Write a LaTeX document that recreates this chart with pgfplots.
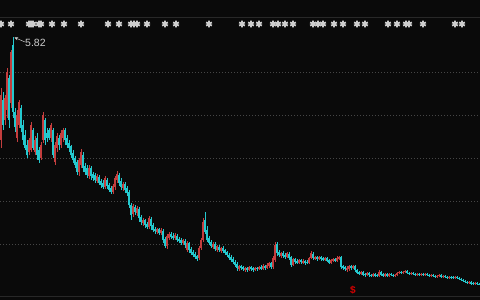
\documentclass[border=0pt]{standalone}
\usepackage{fontspec}
\setmainfont{Liberation Sans}
\usepackage{pgfplots}
\usepackage{pgfplotstable}
\pgfplotsset{compat=1.18}
\usetikzlibrary{arrows.meta}
\definecolor{bgblack}{RGB}{10,10,10}
\definecolor{gridgray}{RGB}{70,70,70}
\definecolor{sepgray}{RGB}{40,40,40}
\definecolor{upred}{RGB}{196,62,62}
\definecolor{dncyan}{RGB}{36,200,206}
\definecolor{starcol}{RGB}{205,205,205}

\pgfplotstableread{
x o h l c
1 3.76 4.80 3.60 4.66
5 4.16 4.66 4.06 4.60
7 4.36 5.20 4.20 5.12
11 4.50 5.56 4.40 5.52
17 3.80 4.36 3.72 4.26
19 4.06 4.56 4.00 4.52
29 3.52 3.80 3.46 3.76
31 3.56 4.12 3.52 4.06
35 3.52 3.84 3.46 3.76
41 3.40 3.72 3.36 3.66
43 3.76 4.32 3.70 4.26
51 3.80 4.10 3.72 4.06
55 3.32 3.72 3.26 3.66
57 3.60 3.90 3.52 3.84
61 3.66 3.96 3.60 3.90
63 3.80 4.00 3.72 3.96
79 3.12 3.40 3.04 3.36
81 3.26 3.58 3.20 3.52
89 3.04 3.26 2.98 3.20
97 2.94 3.08 2.90 3.04
105 2.82 3.04 2.78 3.00
113 2.72 2.88 2.68 2.84
115 2.82 3.04 2.76 3.00
117 2.96 3.14 2.90 3.08
123 2.80 2.92 2.74 2.88
133 2.28 2.48 2.22 2.44
137 2.30 2.44 2.24 2.40
143 2.10 2.20 2.04 2.16
149 2.02 2.24 1.98 2.20
157 1.92 2.00 1.88 1.98
161 1.90 2.00 1.86 1.96
167 1.64 1.88 1.58 1.84
169 1.80 1.92 1.76 1.88
175 1.80 1.90 1.76 1.86
183 1.70 1.78 1.66 1.76
187 1.56 1.74 1.52 1.70
199 1.40 1.64 1.36 1.60
201 1.60 1.80 1.56 1.76
203 1.76 2.20 1.72 2.12
213 1.62 1.72 1.58 1.68
217 1.56 1.66 1.52 1.64
221 1.54 1.62 1.50 1.60
239 1.18 1.26 1.14 1.24
245 1.16 1.22 1.12 1.20
249 1.16 1.24 1.14 1.22
255 1.16 1.22 1.14 1.20
259 1.18 1.24 1.16 1.22
263 1.18 1.28 1.16 1.24
267 1.20 1.30 1.18 1.26
269 1.24 1.32 1.20 1.30
273 1.22 1.44 1.18 1.40
275 1.36 1.72 1.32 1.66
281 1.44 1.52 1.40 1.50
287 1.42 1.52 1.40 1.50
293 1.26 1.40 1.24 1.38
299 1.30 1.38 1.28 1.36
303 1.30 1.38 1.28 1.34
309 1.30 1.42 1.28 1.40
311 1.40 1.54 1.38 1.50
315 1.38 1.44 1.36 1.42
319 1.38 1.44 1.36 1.42
325 1.36 1.42 1.34 1.40
331 1.30 1.38 1.28 1.36
333 1.34 1.40 1.32 1.38
337 1.34 1.44 1.32 1.40
339 1.38 1.44 1.36 1.42
347 1.16 1.24 1.12 1.20
349 1.18 1.26 1.14 1.24
353 1.20 1.26 1.18 1.24
361 1.08 1.14 1.06 1.12
367 1.06 1.12 1.04 1.10
373 1.04 1.10 1.02 1.08
379 1.04 1.16 1.02 1.12
385 1.04 1.10 1.02 1.08
389 1.04 1.10 1.02 1.08
395 1.04 1.08 1.02 1.06
397 1.06 1.12 1.04 1.10
399 1.10 1.14 1.08 1.12
403 1.10 1.14 1.08 1.12
405 1.12 1.16 1.10 1.14
411 1.08 1.12 1.06 1.10
417 1.06 1.10 1.04 1.08
421 1.06 1.10 1.04 1.08
425 1.06 1.10 1.04 1.08
431 1.04 1.08 1.02 1.06
437 1.02 1.06 1.00 1.04
439 1.04 1.08 1.02 1.06
443 1.02 1.06 1.00 1.04
449 1.00 1.04 0.98 1.02
455 1.00 1.04 0.98 1.02
469 0.90 0.94 0.88 0.92
475 0.88 0.92 0.86 0.90
}\upT

\pgfplotstableread{
x o h l c
3 4.56 4.72 3.96 4.06
9 5.00 5.06 4.00 4.16
13 5.66 5.82 4.20 4.32
15 4.32 4.40 3.92 4.02
21 4.40 4.46 3.92 4.00
23 4.06 4.16 3.66 3.76
25 3.86 3.96 3.56 3.60
27 3.66 3.76 3.40 3.46
33 3.96 4.00 3.56 3.60
37 3.80 3.90 3.36 3.46
39 3.56 3.62 3.30 3.36
45 4.16 4.20 3.66 3.76
47 3.90 4.00 3.72 3.80
49 3.96 4.00 3.76 3.80
53 3.96 4.00 3.40 3.46
59 3.80 3.86 3.56 3.66
65 3.96 4.00 3.66 3.76
67 3.80 3.86 3.60 3.66
69 3.70 3.76 3.52 3.60
71 3.64 3.66 3.40 3.46
73 3.50 3.56 3.30 3.36
75 3.40 3.44 3.20 3.26
77 3.32 3.36 3.06 3.12
83 3.46 3.52 3.12 3.20
85 3.24 3.30 3.06 3.12
87 3.20 3.26 3.00 3.06
91 3.20 3.24 2.96 3.04
93 3.08 3.12 2.94 3.00
95 3.06 3.10 2.90 2.96
99 3.02 3.06 2.86 2.90
101 2.94 2.98 2.80 2.86
103 2.90 2.96 2.78 2.82
107 2.96 3.00 2.78 2.84
109 2.86 2.90 2.72 2.76
111 2.80 2.84 2.68 2.72
119 3.06 3.10 2.84 2.90
121 2.94 3.00 2.76 2.82
125 2.88 2.92 2.70 2.76
127 2.80 2.84 2.64 2.70
129 2.72 2.76 2.40 2.46
131 2.46 2.50 2.16 2.26
135 2.42 2.46 2.26 2.32
139 2.38 2.42 2.12 2.20
141 2.22 2.26 2.06 2.12
145 2.16 2.18 2.00 2.06
147 2.08 2.12 1.98 2.02
151 2.18 2.22 1.96 2.04
153 2.06 2.10 1.92 1.96
155 1.98 2.02 1.88 1.94
159 1.98 2.00 1.86 1.90
163 1.94 1.98 1.70 1.76
165 1.78 1.82 1.60 1.64
171 1.88 1.92 1.78 1.82
173 1.84 1.90 1.76 1.80
177 1.84 1.88 1.72 1.76
179 1.78 1.82 1.70 1.74
181 1.76 1.80 1.66 1.70
185 1.74 1.78 1.60 1.66
189 1.70 1.72 1.50 1.56
191 1.58 1.62 1.46 1.50
193 1.52 1.56 1.42 1.46
195 1.48 1.52 1.38 1.42
197 1.44 1.46 1.34 1.38
205 2.16 2.32 1.88 1.92
207 1.96 2.04 1.72 1.76
209 1.80 1.84 1.66 1.70
211 1.72 1.76 1.60 1.64
215 1.68 1.72 1.54 1.58
219 1.62 1.66 1.52 1.56
223 1.60 1.64 1.50 1.54
225 1.56 1.58 1.46 1.50
227 1.52 1.54 1.42 1.46
229 1.46 1.50 1.36 1.40
231 1.42 1.46 1.32 1.36
233 1.38 1.42 1.28 1.32
235 1.32 1.36 1.22 1.26
237 1.28 1.32 1.14 1.20
241 1.24 1.26 1.16 1.20
243 1.22 1.24 1.14 1.18
247 1.20 1.22 1.12 1.16
251 1.22 1.24 1.14 1.18
253 1.20 1.22 1.12 1.16
257 1.20 1.22 1.14 1.18
261 1.22 1.26 1.16 1.18
265 1.24 1.26 1.16 1.20
271 1.30 1.32 1.18 1.22
277 1.68 1.72 1.44 1.50
279 1.52 1.56 1.42 1.46
283 1.50 1.54 1.40 1.44
285 1.46 1.50 1.38 1.42
289 1.48 1.52 1.36 1.40
291 1.42 1.44 1.22 1.26
295 1.38 1.40 1.28 1.32
297 1.34 1.38 1.28 1.30
301 1.36 1.38 1.28 1.32
305 1.34 1.36 1.26 1.30
307 1.32 1.36 1.28 1.30
313 1.48 1.52 1.36 1.40
317 1.42 1.44 1.34 1.38
321 1.42 1.44 1.34 1.38
323 1.40 1.42 1.34 1.36
327 1.40 1.42 1.32 1.34
329 1.36 1.38 1.28 1.30
335 1.38 1.40 1.32 1.34
341 1.42 1.44 1.18 1.22
343 1.24 1.26 1.16 1.20
345 1.22 1.24 1.14 1.18
351 1.24 1.26 1.16 1.20
355 1.24 1.26 1.12 1.16
357 1.16 1.18 1.08 1.10
359 1.12 1.14 1.06 1.08
363 1.12 1.14 1.04 1.06
365 1.08 1.10 1.02 1.06
369 1.10 1.12 1.02 1.06
371 1.06 1.08 1.02 1.04
375 1.08 1.10 1.02 1.04
377 1.06 1.08 1.02 1.04
381 1.12 1.14 1.04 1.06
383 1.08 1.10 1.02 1.04
387 1.08 1.10 1.02 1.04
391 1.08 1.10 1.04 1.06
393 1.06 1.08 1.02 1.04
401 1.12 1.14 1.08 1.10
407 1.14 1.16 1.08 1.10
409 1.10 1.12 1.06 1.08
413 1.10 1.12 1.06 1.08
415 1.08 1.10 1.04 1.06
419 1.08 1.10 1.04 1.06
423 1.08 1.10 1.04 1.06
427 1.08 1.10 1.04 1.06
429 1.06 1.08 1.02 1.04
433 1.06 1.08 1.02 1.04
435 1.04 1.06 1.00 1.02
441 1.06 1.08 1.00 1.02
445 1.04 1.06 1.00 1.02
447 1.02 1.04 0.98 1.00
451 1.02 1.04 0.98 1.00
453 1.02 1.04 0.98 1.00
457 1.02 1.04 0.98 1.00
459 1.00 1.02 0.96 0.98
461 0.98 1.00 0.94 0.96
463 0.96 0.98 0.92 0.94
465 0.94 0.96 0.90 0.92
467 0.92 0.94 0.88 0.90
471 0.92 0.94 0.86 0.88
473 0.90 0.92 0.86 0.88
477 0.90 0.92 0.86 0.88
479 0.88 0.90 0.86 0.87
}\downT

\begin{document}
\begin{tikzpicture}
\begin{axis}[
  name=ax,
  width=480pt, height=300pt, scale only axis,
  xmin=0, xmax=480, ymin=0.56, ymax=6.56,
  axis line style={draw=none},
  xtick=\empty,
  ytick={5.114,4.246,3.394,2.526,1.666},
  yticklabels={},
  ymajorgrids,
  grid style={color=gridgray, dash pattern=on 0.8pt off 2.2pt, line width=0.6pt},
  extra y ticks={6.22,0.64},
  extra y tick labels={},
  extra y tick style={grid style={solid, color=sepgray, line width=0.8pt}},
  major tick length=0pt,
  axis background/.style={fill=bgblack},
  clip=false,
  candle/.style={draw=none, mark=none, forget plot,
    error bars/.cd, y dir=plus, y explicit, error mark=none},
]
% wicks
\addplot[candle, error bar style={draw=upred, line width=0.7pt}]
  table[x=x, y=l, y error expr=\thisrow{h}-\thisrow{l}] {\upT};
\addplot[candle, error bar style={draw=dncyan, line width=0.7pt}]
  table[x=x, y=l, y error expr=\thisrow{h}-\thisrow{l}] {\downT};
% bodies
\addplot[candle, error bar style={draw=upred, line width=1.6pt}]
  table[x=x, y=o, y error expr=\thisrow{c}-\thisrow{o}] {\upT};
\addplot[candle, error bar style={draw=dncyan, line width=1.6pt}]
  table[x=x, y=c, y error expr=\thisrow{o}-\thisrow{c}] {\downT};
% event markers
\addplot[only marks, mark=asterisk, mark size=3.3pt,
  mark options={starcol, line width=1.8pt}]
  coordinates {(1,6.08) (11,6.08) (29,6.08) (31,6.08) (33,6.08) (39,6.08) (41,6.08)
  (52,6.08) (64,6.08) (81,6.08) (108,6.08) (119,6.08) (131,6.08) (134,6.08) (137,6.08)
  (147,6.08) (165,6.08) (176,6.08) (209,6.08) (242,6.08) (251,6.08) (259,6.08)
  (273,6.08) (278,6.08) (285,6.08) (293,6.08) (313,6.08) (318,6.08) (323,6.08)
  (334,6.08) (343,6.08) (357,6.08) (365,6.08) (388,6.08) (397,6.08) (406,6.08)
  (409,6.08) (423,6.08) (455,6.08) (462,6.08)};
\draw[-{Stealth[length=3.5pt,width=3pt]}, color=starcol, line width=0.5pt]
  (axis cs:25,5.72) -- (axis cs:14.5,5.81);
\node[anchor=west, text=starcol, font=\fontsize{10.5}{12}\selectfont, inner sep=0pt]
  at (axis cs:25,5.70) {5.82};
\node[text=red!85!black, font=\bfseries\fontsize{10}{11}\selectfont, inner sep=0pt]
  at (axis cs:353,0.76) {\$};
\end{axis}
\pgfresetboundingbox
\path (ax.south west) rectangle (ax.north east);
\end{tikzpicture}
\end{document}
